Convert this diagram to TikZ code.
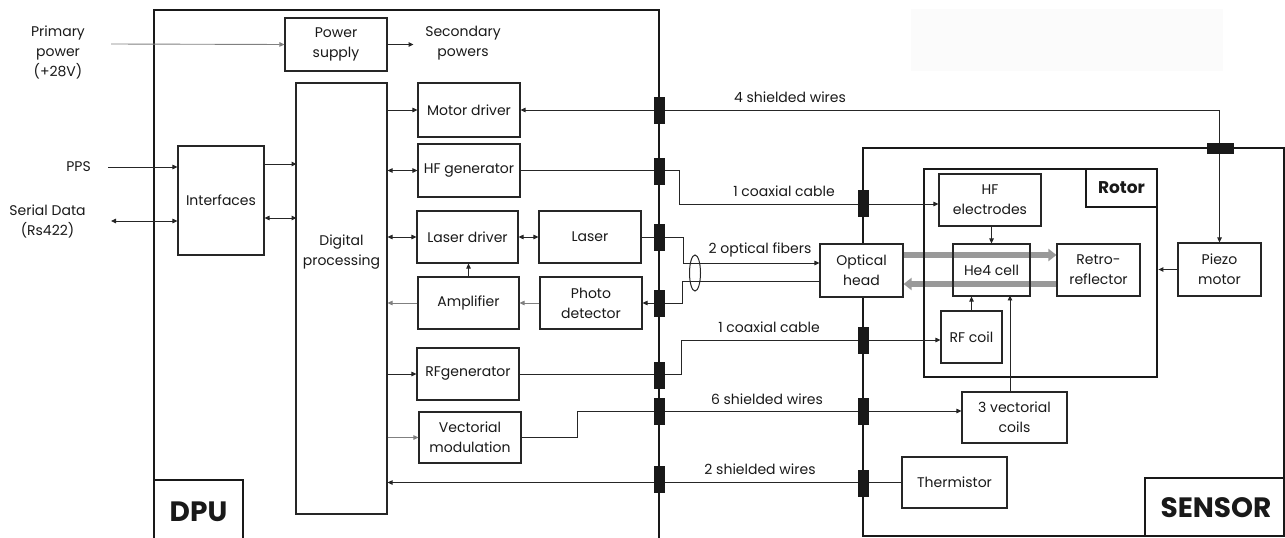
\documentclass[tikz,border=0pt]{standalone}
\usepackage{fontspec}
\setmainfont{Poppins}
\usetikzlibrary{arrows.meta,shapes.geometric,backgrounds}
\newcommand\lblfont{\fontsize{14}{20}\selectfont}
\begin{document}
\begin{tikzpicture}[x=1pt,y=-1pt,
  >={Triangle[length=5pt,width=4.5pt]},
  every node/.style={inner sep=0pt, align=center, font=\lblfont, text=black!90},
  wh/.style 2 args={minimum width=#1pt, minimum height=#2pt},
  box/.style={draw=black!85, line width=1.1pt, fill=white},
  frame/.style={draw=black!90, line width=2.8pt},
  conn/.style={fill=black!90, minimum width=11pt, minimum height=27pt},
  hconn/.style={fill=black!90, minimum width=27pt, minimum height=11pt},
  wire/.style={draw=black!85, line width=0.9pt},
  lwire/.style={draw=black!50, line width=0.9pt},
  big/.style={draw=black!40, line width=5.5pt, -{Triangle[length=8pt,width=12pt]}},
  bold/.style={font=\fontsize{28}{30}\selectfont\bfseries}
]
\useasboundingbox (0,0) rectangle (1285,538);
\fill[black!1.5] (911,9) rectangle (1223,71);

% frames
\draw[frame] (154,545) -- (154,10) -- (659,10) -- (659,545);
\draw[frame] (154,480) -- (243,480) -- (243,545);
\node[bold] (dpu) at (198.5,512) {DPU};
\draw[frame] (863,148) rectangle (1284,536);
\draw[frame] (1145,536) -- (1145,478) -- (1284,478);
\node[bold] (sen) at (1216,508) {SENSOR};
\node[frame, wh={233}{208}] (rot) at (1040.5,273) {};
\draw[frame] (1086,169) |- (1157,207);
\node[font=\fontsize{17}{18}\selectfont\bfseries] (rotl) at (1121.5,188) {Rotor};

% DPU boxes
\node[box, wh={102}{53}] (ps) at (336,44.5) {Power\\supply};
\node[box, wh={91}{431}] (dp) at (341.5,298.5) {};
\node (dpt) at (341.5,252) {Digital\\processing};
\node[box, wh={86}{109}] (itf) at (221,200.5) {Interfaces};
\node[box, wh={102}{54}] (md) at (469,110) {Motor driver};
\node[box, wh={102}{53}] (hfg) at (469,170.5) {HF generator};
\node[box, wh={101}{52}] (ld) at (467.5,237) {Laser driver};
\node[box, wh={102}{52}] (ls) at (590,237) {Laser};
\node[box, wh={101}{52}] (amp) at (468.5,303) {Amplifier};
\node[box, wh={102}{52}] (pd) at (591,303) {Photo\\detector};
\node[box, wh={102}{52}] (rfg) at (468,374) {RFgenerator};
\node[box, wh={102}{51}] (vm) at (470,437.5) {Vectorial\\modulation};

% sensor boxes
\node[box, wh={83}{53}] (oh) at (861.5,270.5) {Optical\\head};
\node[box, wh={102}{52}] (hfe) at (990,200) {HF\\electrodes};
\node[draw=black!85, line width=1.1pt, wh={77}{52}] (he4) at (991.5,270) {He4 cell};
\node[box, wh={83}{52}] (rr) at (1098.5,270) {Retro-\\reflector};
\node[box, wh={61}{52}] (rfc) at (971.5,337) {RF coil};
\node[box, wh={105}{51}] (vc) at (1014.5,417.5) {3 vectorial\\coils};
\node[box, wh={105}{51}] (th) at (954.5,482.5) {Thermistor};
\node[box, wh={83}{53}] (pm) at (1219.5,269.5) {Piezo\\motor};

% optical beams
\begin{pgfonlayer}{background}
\draw[big] ([yshift=15.5pt]oh.east) -- ([yshift=15pt]rr.west);
\draw[big] ([yshift=-14pt]rr.west) -- ([yshift=-13.5pt]oh.east);
\end{pgfonlayer}

% inputs
\coordinate (pp) at (111,44);
\draw[->,lwire] (pp) -- (ps.west);
\draw[->,wire] (ps.east) -- ++(26,0);
\node (ppl) at (58,52) {Primary\\power\\(+28V)};
\node (secl) at (463,43) {Secondary\\powers};
\coordinate (pps) at (108,167);
\draw[->,wire] (pps) -- (pps -| itf.west);
\node[anchor=east] (ppsl) at (91,167) {PPS};
\coordinate (ser) at (111,221);
\draw[<->,wire] (ser) -- (ser -| itf.west);
\node (serl) at (47.5,221) {Serial Data\\(Rs422)};
\draw[->,wire] ([yshift=36.5pt]itf.east) -- ++(32,0);
\draw[<->,wire] ([yshift=-17.5pt]itf.east) -- ++(32,0);

% DPU internal wires
\draw[->,wire] (dp.east |- md.west) -- (md.west);
\draw[<->,wire] (dp.east |- hfg.west) -- (hfg.west);
\draw[<->,wire] (dp.east |- ld.west) -- (ld.west);
\draw[<->,wire] (ld.east) -- (ls.west);
\draw[->,lwire] (amp.west) -- (dp.east |- amp.west);
\draw[->,lwire] (pd.west) -- (amp.east);
\draw[->,wire] (amp.north) -- (amp.north |- ld.south);
\draw[->,wire] (dp.east |- rfg.west) -- (rfg.west);
\draw[->,lwire] (dp.east |- vm.west) -- (vm.west);

% cables
\draw[<->,wire] (md.east) -| (pm.north);
\draw[->,wire] (hfg.east) -- ++(159,0) |- ([yshift=-4pt]hfe.west);
\draw[->,wire] (ls.east) -- ++(42,0) |- ([yshift=7.5pt]oh.west);
\draw[->,wire] ([yshift=-10.5pt]oh.west) -- ++(-137,0) |- (pd.east);
\node[draw=black!85, line width=1pt, ellipse, minimum width=11pt, minimum height=36pt] (fib) at (695,273) {};
\draw[->,wire] (rfg.east) -- ++(162,0) |- ([yshift=-3pt]rfc.west);
\draw[->,wire] (vm.east) -- ++(56,0) |- ([yshift=6.5pt]vc.west);
\draw[->,wire] (th.west) -- (dp.east |- th.west);

% sensor internal wires
\draw[->,wire] ([xshift=-4.5pt]vc.north) -- ++(0,-96);
\draw[->,wire] (he4.north |- hfe.south) -- (he4.north);
\draw[->,wire] (rfc.north) -- (rfc.north |- he4.south);
\draw[->,wire] (pm.west) -- (pm.west -| rot.east);

% connectors
\node[conn] (d1) at (659,110) {};
\node[conn] (d2) at (659,171) {};
\node[conn] (d3) at (659,237) {};
\node[conn] (d4) at (659,303) {};
\node[conn] (d5) at (659,375) {};
\node[conn] (d6) at (659,411) {};
\node[conn] (d7) at (659,479) {};
\node[conn] (s1) at (863,203) {};
\node[conn] (s2) at (863,340) {};
\node[conn] (s3) at (863,411) {};
\node[conn] (s4) at (863,483) {};
\node[hconn] (s0) at (1220,148) {};

% cable labels
\node (w4) at (790,97) {4 shielded wires};
\node (w1) at (784,191) {1 coaxial cable};
\node (w2) at (760,250) {2 optical fibers};
\node (w3) at (769,327) {1 coaxial cable};
\node (w6) at (767,399) {6 shielded wires};
\node (w7) at (760,469) {2 shielded wires};
\end{tikzpicture}
\end{document}
